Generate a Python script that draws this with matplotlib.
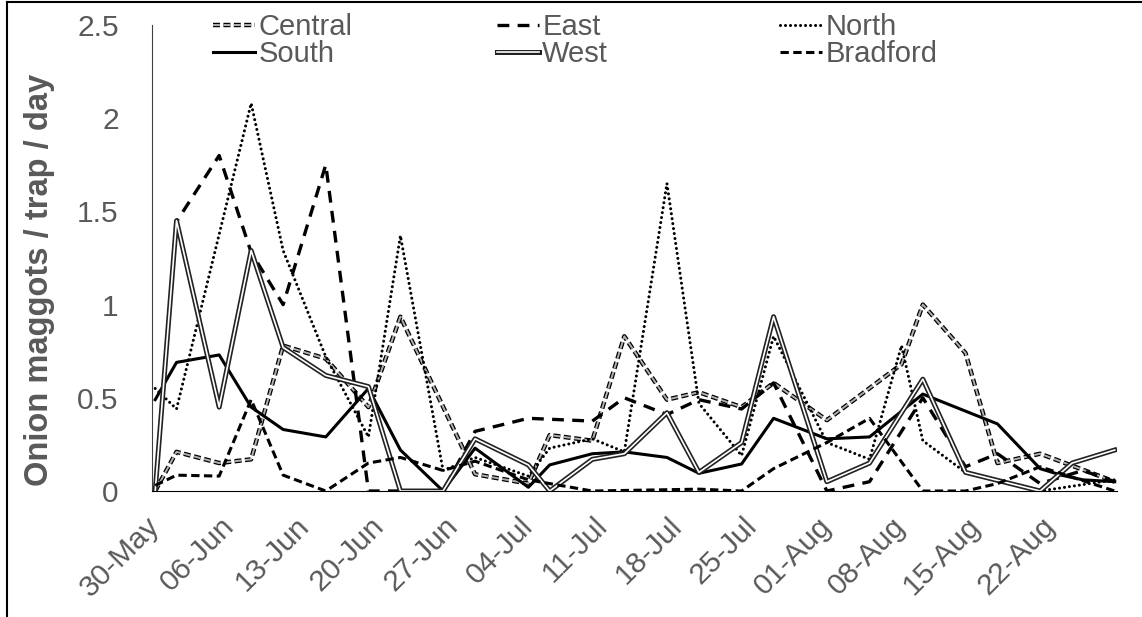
import matplotlib
matplotlib.use("Agg")
import matplotlib.pyplot as plt
import matplotlib.patheffects as pe
from matplotlib.lines import Line2D

plt.rcParams['font.family'] = ['Liberation Sans', 'DejaVu Sans']
plt.rcParams['lines.scale_dashes'] = False

# x axis: days after 30-May
tick_days = [0, 7, 14, 21, 28, 35, 42, 49, 56, 63, 70, 77, 84]
tick_labels = ['30-May', '06-Jun', '13-Jun', '20-Jun', '27-Jun', '04-Jul', '11-Jul',
               '18-Jul', '25-Jul', '01-Aug', '08-Aug', '15-Aug', '22-Aug']
y_ticks = [0, 0.5, 1, 1.5, 2, 2.5]
y_tick_labels = ['0', '0.5', '1', '1.5', '2', '2.5']

central_days = [0, 2, 6, 9, 12, 16, 20, 23, 30, 35, 37, 41, 44, 48, 51, 55, 58, 63, 70, 72, 76, 79, 83, 90]
central = [0.0, 0.21, 0.15, 0.17, 0.78, 0.71, 0.45, 0.935, 0.09, 0.04, 0.30, 0.27, 0.83, 0.49,
           0.53, 0.45, 0.58, 0.38, 0.68, 1.0, 0.74, 0.15, 0.2, 0.05]

east_days = [0, 2, 6, 9, 12, 16, 20, 27, 30, 35, 41, 44, 48, 51, 55, 58, 63, 67, 72, 76, 79, 83, 87, 90]
east = [0.0, 1.445, 1.80, 1.28, 1.0, 1.75, 0.0, 0.0, 0.32, 0.39, 0.375, 0.50, 0.41, 0.49,
        0.44, 0.58, 0.0, 0.05, 0.50, 0.13, 0.2, 0.04, 0.11, 0.05]

north_days = [0, 2, 9, 12, 16, 20, 23, 27, 30, 35, 37, 41, 44, 48, 51, 55, 58, 63, 67, 70, 72, 76, 83, 90]
north = [0.55, 0.44, 2.08, 1.29, 0.72, 0.29, 1.37, 0.11, 0.18, 0.08, 0.23, 0.28, 0.21, 1.65,
         0.47, 0.19, 0.83, 0.26, 0.17, 0.78, 0.27, 0.10, 0.0, 0.06]

south_days = [0, 2, 6, 9, 12, 16, 20, 23, 27, 30, 35, 37, 41, 44, 48, 51, 55, 58, 63, 67, 72, 79, 83, 85, 87, 90]
south = [0.49, 0.69, 0.73, 0.45, 0.33, 0.29, 0.55, 0.22, 0.0, 0.23, 0.02, 0.14, 0.20, 0.21,
         0.18, 0.095, 0.145, 0.39, 0.28, 0.29, 0.52, 0.36, 0.12, 0.085, 0.06, 0.05]

west_days = [0, 2, 6, 9, 12, 16, 20, 23, 27, 30, 35, 37, 41, 44, 48, 51, 55, 58, 63, 67, 72, 76, 83, 86, 90]
west = [0.0, 1.45, 0.45, 1.29, 0.77, 0.62, 0.56, 0.0, 0.0, 0.28, 0.14, 0.0, 0.17, 0.2, 0.42,
        0.10, 0.26, 0.935, 0.05, 0.15, 0.60, 0.10, 0.0, 0.15, 0.22]

bradford_days = [0, 2, 6, 9, 12, 16, 20, 23, 27, 30, 35, 41, 51, 55, 58, 63, 67, 72, 76, 79, 83, 90]
bradford = [0.03, 0.085, 0.08, 0.49, 0.085, 0.0, 0.15, 0.18, 0.11, 0.16, 0.06, 0.0, 0.01, 0.0,
            0.12, 0.26, 0.39, 0.0, 0.0, 0.04, 0.13, 0.0]

grey = '#595959'

fig = plt.figure(figsize=(11.42, 6.17), dpi=100)
ax = fig.add_axes([0.1331, 0.2042, 0.8449, 0.7553])

outline = [pe.Stroke(linewidth=3.2, foreground='black'), pe.Normal()]

l_central, = ax.plot(central_days, central, color='#b0b0b0', lw=1.4,
                     dashes=(5, 2.5), path_effects=outline, label='Central')
l_east, = ax.plot(east_days, east, color='black', lw=2.4, dashes=(8.5, 6), label='East')
l_north, = ax.plot(north_days, north, color='black', lw=2.2, dashes=(0.01, 3.6),
                   dash_capstyle='round', label='North')
l_south, = ax.plot(south_days, south, color='black', lw=2.2, label='South')
l_west, = ax.plot(west_days, west, color='white', lw=1.2,
                  path_effects=[pe.Stroke(linewidth=3.6, foreground='#222222'), pe.Normal()],
                  label='West')
l_brad, = ax.plot(bradford_days, bradford, color='black', lw=2.2, dashes=(6, 3.2), label='Bradford')

ax.set_xlim(-0.3, 90.2)
ax.set_ylim(0, 2.5)
ax.set_xticks(tick_days)
ax.set_xticklabels(tick_labels, rotation=45, ha='right', va='center', rotation_mode='anchor')
ax.set_yticks(y_ticks)
ax.set_yticklabels(y_tick_labels)
ax.tick_params(axis='both', length=0, labelsize=21.5, labelcolor=grey)
ax.tick_params(axis='y', pad=24)
ax.tick_params(axis='x', pad=22)

ax.spines['top'].set_visible(False)
ax.spines['right'].set_visible(False)
ax.spines['left'].set_color('#404040')
ax.spines['bottom'].set_color('black')

ax.set_ylabel('Onion maggots / trap / day', fontsize=23.5, fontweight='bold', color=grey)
ax.yaxis.set_label_coords(-0.1005, 0.453)

# legend in three columns
cols = [([l_central, l_south], 213), ([l_east, l_west], 497), ([l_north, l_brad], 780)]
for hs, xpix in cols:
    fig.legend(handles=hs, loc='upper left', bbox_to_anchor=(xpix / 1142, 1 - 13 / 617),
               frameon=False, fontsize=21, handlelength=1.45, handletextpad=0.1,
               labelspacing=-0.02, borderpad=0, borderaxespad=0, labelcolor=grey)

# page border
fig.add_artist(Line2D([7 / 1142, 7 / 1142], [0, 1 - 2 / 617], color='black', lw=1.5))
fig.add_artist(Line2D([7 / 1142, 1], [1 - 2 / 617, 1 - 2 / 617], color='black', lw=1.5))

fig.savefig('out.png', dpi=100)
